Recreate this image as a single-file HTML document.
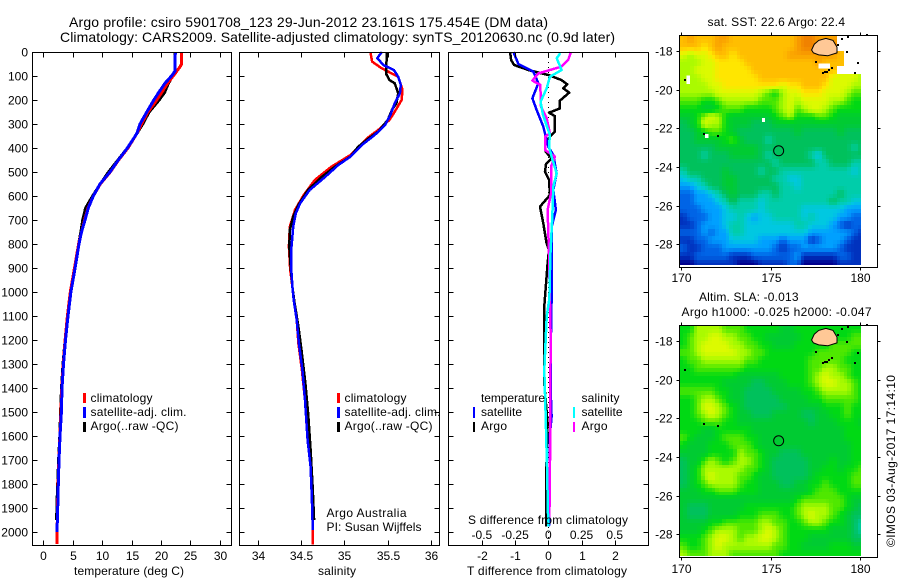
<!DOCTYPE html>
<html lang="en">
<head>
<meta charset="utf-8">
<title>Argo profile 5901708_123</title>
<style>
html,body{margin:0;padding:0;background:#fff;}
svg{display:block;}
text{font-family:"Liberation Sans",Arial,sans-serif;font-size:12px;fill:#000;}
.t14{font-size:14px;}
</style>
</head>
<body>
<svg id="fig" xmlns="http://www.w3.org/2000/svg" width="900" height="580" viewBox="0 0 900 580">
<defs>
<clipPath id="clipMapA"><rect x="680" y="36" width="181" height="229"/></clipPath>
<clipPath id="clipMapB"><rect x="680" y="326" width="181" height="230"/></clipPath>
</defs>
<rect x="0" y="0" width="900" height="580" fill="#fff"/>

<text class="t14" x="69" y="27" textLength="479">Argo profile: csiro 5901708_123 29-Jun-2012 23.161S 175.454E (DM data)</text>
<text class="t14" x="60" y="42" textLength="555">Climatology: CARS2009. Satellite-adjusted climatology: synTS_20120630.nc (0.9d later)</text>

<g id="panelTemp"></g>
<g id="panelSal"></g>
<g id="panelDiff"></g>
<g id="mapA"></g>
<g id="mapB"></g>

<text x="74" y="575" textLength="110">temperature (deg C)</text>
<text x="318" y="575" textLength="38">salinity</text>
<text x="467" y="575" textLength="160">T difference from climatology</text>
<text x="468" y="524" textLength="160">S difference from climatology</text>

<g>
<rect x="83" y="393" width="3" height="10" fill="#f00"/>
<rect x="83" y="407" width="3" height="11" fill="#00f"/>
<rect x="83" y="422" width="3" height="10" fill="#000"/>
<text x="90.5" y="402" textLength="62">climatology</text>
<text x="90.5" y="416" textLength="96">satellite-adj. clim.</text>
<text x="90.5" y="430" textLength="88">Argo(..raw -QC)</text>
</g>
<g>
<rect x="337" y="393" width="3" height="10" fill="#f00"/>
<rect x="337" y="407" width="3" height="11" fill="#00f"/>
<rect x="337" y="422" width="3" height="10" fill="#000"/>
<text x="344.5" y="402" textLength="62">climatology</text>
<text x="344.5" y="416" textLength="96">satellite-adj. clim.</text>
<text x="344.5" y="430" textLength="88">Argo(..raw -QC)</text>
</g>
<text x="326.5" y="517" textLength="80">Argo Australia</text>
<text x="326.5" y="531" textLength="95">PI: Susan Wijffels</text>

<g>
<text x="481" y="402" textLength="64">temperature</text>
<text x="481" y="416" textLength="41">satellite</text>
<text x="481" y="430" textLength="26">Argo</text>
<rect x="473" y="407" width="2" height="11" fill="#00f"/>
<rect x="473" y="422" width="2" height="10" fill="#000"/>
<text x="581.5" y="402" textLength="38">salinity</text>
<text x="581.5" y="416" textLength="41">satellite</text>
<text x="581.5" y="430" textLength="26">Argo</text>
<rect x="573" y="407" width="2" height="11" fill="#0ff"/>
<rect x="573" y="422" width="2" height="10" fill="#f0f"/>
</g>

<text x="707.5" y="26" textLength="137.5">sat. SST: 22.6 Argo: 22.4</text>
<text x="699" y="301" textLength="99.5">Altim. SLA: -0.013</text>
<text x="681.5" y="316" textLength="190">Argo h1000: -0.025 h2000: -0.047</text>
<text transform="translate(895,547) rotate(-90)" x="0" y="0" textLength="172">©IMOS 03-Aug-2017 17:14:10</text>
</svg>

<script>
// ---- profile data ----
const depthTicks = [0,100,200,300,400,500,600,700,800,900,1000,1100,1200,1300,1400,1500,1600,1700,1800,1900,2000];
const tempTicks = [0,5,10,15,20,25,30];
const salTicks = [34,34.5,35,35.5,36];
const diffTTicks = [-2,-1,0,1,2];
const diffSTicks = [-0.5,-0.25,0,0.25,0.5];
const diffSLabels = ["-0.5","-0.25","0","0.25","0.5"];

const tempArgoDepth = [0,80,100,130,170,200,250,300,340,400,450,500,550,600,650,700,750,800,900,1000,1100,1200,1300,1400,1500,1600,1700,1800,1900,1950];
const tempArgo = [22.4,22.4,22.0,21.3,20.6,19.7,18.0,16.9,15.9,14.3,12.7,11.1,9.7,8.4,7.2,6.7,6.4,6.0,5.3,4.7,4.15,3.7,3.35,3.1,2.95,2.8,2.6,2.45,2.3,2.28];
const tempClimDepth = [0,50,60,80,100,130,170,200,250,300,340,400,450,500,550,600,650,700,800,900,1000,1100,1200,1300,1400,1500,1600,1700,1800,1900,2000,2050];
const tempClim = [23.5,23.5,23.3,22.7,22.1,21.15,20.1,19.3,17.8,16.7,15.9,14.4,12.8,11.4,9.7,8.5,7.6,7.0,6.0,5.3,4.6,4.1,3.7,3.4,3.15,3.0,2.82,2.65,2.52,2.42,2.35,2.3];
const tempSatDepth = [0,80,100,130,170,200,250,300,340,400,450,500,550,600,650,700,750,800,900,1000,1100,1200,1300,1400,1500,1600,1700,1800,1900,2000];
const tempSat = [22.45,22.4,21.8,20.7,19.6,18.8,17.6,16.45,15.9,14.3,12.75,11.35,9.65,8.5,7.65,7.1,6.5,6.07,5.4,4.7,4.2,3.78,3.43,3.18,3.07,2.84,2.67,2.55,2.45,2.33];

const salArgoDepth = [0,90,117,130,172,214,240,283,332,360,394,436,478,520,575,637,686,742,811,894,978,1033,1144,1242,1380,1519,1658,1825,1950];
const salArgo = [35.49,35.48,35.52,35.58,35.62,35.6,35.55,35.5,35.39,35.28,35.16,35.07,34.89,34.74,34.58,34.47,34.41,34.37,34.365,34.38,34.4,34.42,34.47,34.505,34.55,34.585,34.61,34.635,34.65];
const salClimDepth = [0,40,68,103,158,200,249,283,325,360,429,478,533,596,658,728,811,908,978,1033,1116,1214,1325,1450,1617,1728,1866,1991,2053];
const salClim = [35.3,35.32,35.43,35.62,35.67,35.66,35.58,35.52,35.39,35.26,35.07,34.85,34.66,34.53,34.43,34.37,34.36,34.375,34.4,34.415,34.45,34.47,34.51,34.545,34.575,34.61,34.625,34.635,34.635];
const salSatDepth = [0,26,54,75,103,137,172,214,262,304,346,388,436,471,520,575,630,672,728,811,894,978,1033,1116,1214,1325,1450,1617,1728,1866,1991];
const salSat = [35.43,35.38,35.45,35.57,35.62,35.65,35.64,35.58,35.53,35.47,35.35,35.2,35.07,34.93,34.78,34.6,34.49,34.44,34.41,34.39,34.385,34.4,34.415,34.45,34.475,34.515,34.545,34.575,34.61,34.625,34.635];

const diffTArgoDepth = [0,33,54,75,96,117,135,151,169,203,235,253,267,332,353,381,415,443,467,499,533,596,644,714,797,825,880,1075,1367,1547,1783,1978];
const diffTArgo = [-1.15,-1.12,-1.03,-0.6,0,0.4,0.57,0.45,0.63,0.35,0.35,0.02,0.2,0.2,0.05,-0.1,-0.08,0.1,-0.07,-0.1,0.02,0.05,-0.25,-0.15,-0.05,0.02,-0.02,-0.13,-0.13,-0.02,-0.07,-0.07];
const diffTSatDepth = [0,50,82,130,193,242,311,394,429,506,575,658,728,880,1026,1172,1450,1519,1589,1978];
const diffTSat = [-1.05,-0.9,-0.45,-0.3,-0.48,-0.35,-0.15,0,0.15,0.25,0.15,0.23,0.1,0.1,0.1,0.08,0.08,0.1,0.05,0.02];
const diffSArgoDepth = [0,33,61,89,119,137,228,276,339,353,408,436,478,589,658,839,1172,1589,1939];
const diffSArgo = [0.17,0.15,0.1,-0.075,-0.12,-0.06,-0.055,-0.012,0.012,-0.025,-0.025,0.05,0.02,0.02,-0.005,0.005,0.017,0.015,0.008];
const diffSSatDepth = [5,26,75,103,151,207,262,346,394,436,506,561,686,853,1026,1103,1325,1506,1728,1978];
const diffSSat = [0.09,0.063,0.1,0.012,-0.012,-0.058,-0.04,0.012,0.005,0.025,0.063,0.038,0.03,0.015,0.008,-0.012,-0.03,-0.02,-0.01,0];

// ---- map data: colour-ramp levels on a 0.4 degree grid, north to south; null = no data ----
const mapLonTicks = [170,175,180];
const mapLatTicks = [-18,-20,-22,-24,-26,-28];
const sstLevels = [
[13,14,13,13,13,14,14,13,13,13,13,13,13,13,13,13,14,15,15,14,14,14,null,null,null,null],
[13,13,13,12,13,14,13,13,13,13,13,13,13,13,13,13,14,15,15,15,15,15,null,null,null,null],
[11,10,11,11,12,13,13,12,13,13,13,13,13,13,13,14,14,14,14,14,14,14,13,null,null,null],
[10,10,10,11,11,12,12,12,12,13,13,13,13,13,13,13,13,13,13,14,13,13,13,null,null,null],
[10,10,11,11,11,12,12,12,12,12,13,13,13,13,13,13,13,13,13,13,13,13,null,null,null,null],
[10,10,10,11,11,12,12,12,12,12,12,13,13,13,13,13,13,13,13,13,13,11,11,11,11,10],
[10,10,10,10,11,11,12,12,12,12,12,12,12,12,11,12,12,13,13,13,12,11,11,11,10,10],
[10,10,10,10,10,11,11,11,11,11,11,10,9,8,10,11,11,12,12,12,11,11,11,10,9,9],
[9,9,9,8,8,9,10,10,10,10,10,9,9,9,10,11,10,11,11,11,11,10,10,9,8,8],
[8,8,8,7,7,8,9,9,9,8,8,8,8,9,10,11,9,10,11,11,10,9,8,8,8,8],
[7,7,8,10,11,10,8,7,7,7,7,7,7,8,9,10,8,8,8,9,9,8,7,7,7,7],
[6,7,8,11,10,10,8,7,7,7,6,6,6,7,7,7,7,7,7,7,7,7,7,7,7,7],
[6,6,7,8,9,9,8,7,6,6,6,6,6,6,6,6,7,6,6,6,6,6,7,6,6,6],
[6,6,7,7,7,7,8,9,7,6,6,6,5,6,6,6,6,6,6,6,6,6,6,6,6,6],
[6,6,6,6,6,7,7,7,7,7,7,6,6,6,6,6,6,6,6,6,6,6,6,6,5,6],
[6,6,6,5,6,6,6,7,7,7,7,6,5,6,6,6,6,6,5,4,6,6,6,6,6,6],
[6,6,6,6,6,6,6,6,6,6,6,6,6,5,6,6,6,6,6,5,5,6,6,6,5,5],
[5,6,6,6,6,6,7,6,6,6,6,5,6,6,5,5,5,5,5,5,5,5,5,5,4,5],
[4,5,5,6,6,6,7,7,6,6,6,6,6,5,5,4,4,5,5,5,5,5,5,5,5,5],
[3,3,4,5,6,6,7,7,6,6,6,6,6,6,5,5,4,5,5,5,5,5,5,5,5,5],
[2,2,3,3,4,5,6,7,6,6,6,5,5,6,5,5,5,5,5,5,5,5,6,5,5,5],
[2,2,3,3,3,4,5,6,5,5,5,4,5,5,5,5,5,5,5,5,5,6,5,5,4,4],
[2,2,2,3,3,3,4,5,5,5,5,4,5,5,5,5,5,4,4,4,4,4,4,3,3,3],
[1,2,2,2,3,3,4,4,5,4,3,4,4,5,5,5,5,4,5,4,4,4,3,3,2,2],
[1,1,2,3,3,3,4,5,5,4,4,4,4,4,4,4,5,5,4,4,4,3,2,1,2,2],
[2,2,2,3,2,3,3,5,5,4,4,4,4,4,4,4,4,4,3,3,3,3,3,3,2,1],
[1,1,2,2,3,3,3,4,4,4,4,3,3,3,2,3,3,3,1,2,3,3,3,2,1,1],
[2,1,1,2,2,2,3,3,3,3,3,3,3,2,1,2,2,3,3,3,3,3,2,1,1,1],
[1,1,2,2,2,2,2,1,1,1,2,2,2,2,2,2,3,1,1,1,1,1,2,2,1,1],
[0,0,1,1,1,1,1,1,0,0,0,1,1,1,1,2,2,0,0,0,0,0,1,1,1,1]
];
const slaLevels = [
[8,8,10,10,10,10,9,9,9,8,8,8,8,8,7,7,8,8,8,8,8,8,8,8,8,8],
[8,9,10,10,11,11,10,10,9,9,8,8,7,7,7,7,7,8,8,8,8,8,8,8,9,9],
[8,9,10,11,11,11,11,10,10,9,9,8,8,7,7,7,8,8,8,8,8,9,9,9,9,9],
[9,9,10,11,11,11,11,11,10,10,9,9,8,8,8,8,8,8,8,9,9,9,9,9,8,8],
[8,9,9,10,10,10,10,10,10,9,9,8,8,8,8,8,8,8,9,9,9,9,9,8,8,8],
[8,8,9,9,9,9,9,9,9,8,8,8,8,8,8,8,8,8,9,9,10,10,9,9,8,8],
[8,8,8,8,8,8,8,8,7,7,7,7,7,7,8,8,8,8,9,10,11,10,10,9,8,8],
[8,8,8,8,8,8,7,7,7,7,6,6,7,7,7,8,8,8,9,10,11,11,10,10,9,8],
[9,9,9,9,9,8,8,7,7,6,6,6,6,7,7,7,7,8,8,9,10,10,10,10,9,8],
[8,8,9,10,10,9,8,7,7,6,6,6,6,6,7,7,7,7,8,8,9,9,9,9,9,8],
[8,8,9,11,11,10,9,8,7,6,6,6,6,6,6,7,7,7,7,7,8,8,8,9,8,8],
[8,8,9,10,11,10,9,8,7,7,6,6,6,7,7,7,7,6,6,7,7,8,8,9,8,8],
[8,8,8,9,9,9,8,8,7,7,7,7,7,7,7,7,7,7,6,7,7,7,8,8,8,7],
[8,8,8,7,7,8,8,8,8,8,7,7,7,7,7,7,7,7,7,7,7,7,7,8,8,8],
[9,8,7,7,7,8,9,9,9,8,8,7,7,7,7,7,7,7,7,7,7,7,7,8,8,8],
[8,7,7,7,8,8,8,9,9,9,8,7,7,7,7,7,7,7,7,7,7,7,7,7,8,8],
[7,7,7,7,8,8,8,8,10,9,9,8,7,7,6,6,6,7,7,7,7,7,7,7,8,8],
[6,7,7,9,10,9,8,9,10,10,9,8,7,6,6,6,6,6,7,7,7,8,7,7,8,8],
[6,7,8,10,10,10,10,10,10,9,9,8,7,6,6,6,6,6,7,7,8,8,7,8,8,9],
[6,7,8,10,11,10,10,10,9,9,8,7,7,6,6,6,6,6,7,8,8,8,8,8,9,9],
[6,7,8,9,10,10,10,10,9,8,8,7,7,7,6,6,7,7,8,8,9,8,8,8,9,9],
[7,7,7,8,8,9,9,9,8,8,8,7,7,7,7,7,7,7,8,9,9,9,8,8,8,8],
[7,7,7,7,7,7,7,7,7,7,7,7,7,7,7,7,8,9,9,9,9,9,9,8,7,7],
[7,6,6,6,7,7,7,7,7,8,8,8,8,8,8,8,9,10,10,10,10,9,9,8,7,6],
[7,6,6,6,7,7,7,7,8,8,8,9,9,9,8,8,9,10,11,10,10,9,8,7,6,6],
[7,7,7,7,8,8,9,9,9,9,9,10,10,9,9,8,8,9,10,10,9,8,8,7,6,5],
[7,7,7,8,9,10,10,10,9,9,9,10,11,10,9,8,8,8,8,8,8,7,7,7,6,5],
[8,8,8,9,10,11,11,10,9,10,10,11,11,10,9,8,8,8,7,7,7,7,7,7,6,6],
[9,8,8,9,10,11,10,10,10,10,10,10,10,9,9,8,8,7,7,7,7,8,8,8,7,7],
[10,9,9,9,10,10,10,9,9,9,9,9,9,9,8,8,8,8,8,8,8,8,8,8,8,8]
];
const levelReds = [0,0,0,0,0,0,0,0,0,79,170,220,255,255,250,240];
const levelGreens = [0,50,100,160,200,205,193,203,217,232,250,250,230,190,160,130];
const levelBlues = [140,190,230,255,225,170,92,50,20,0,0,0,0,0,0,0];
const sstGaps = [[170.3,-19.28,170.5,-19.7],[171.33,-22.29,171.51,-22.5],[174.52,-21.47,174.69,-21.67],[177.68,-18.64,178.33,-18.9]];
const islandLon = [177.3,177.45,177.7,178.1,178.5,178.72,178.72,178.2,177.7,177.4];
const islandLat = [-17.95,-17.65,-17.45,-17.35,-17.45,-17.8,-18.1,-18.25,-18.2,-18.1];
const coastLon = [177.55,177.96,178.15,178.43,178.99,178.8,179.27,179.36,179.92,180.39,170.21,171.29,172.07,179.73,178.3,178.05];
const coastLat = [-18.55,-19.12,-19.07,-18.9,-17.39,-17.69,-18.04,-17.26,-18.64,-17.17,-19.5,-22.31,-22.4,-19.15,-19.0,-19.1];
const argoLon = [175.454];
const argoLat = [-23.161];

// ---- helpers ----
const NS = 'http://www.w3.org/2000/svg';
function mk(tag, parent, attrs){
  const el = document.createElementNS(NS, tag);
  for (const k in attrs) el.setAttribute(k, attrs[k]);
  parent.appendChild(el);
  return el;
}
const depthY = d => 52 + d * 0.24;
const tempX = v => 43.3 + v * 5.88;
const salX = v => 257.7 + (v - 34) * 86.7;
const diffTX = v => 548.3 + v * 33.2;
const diffSX = v => 548.3 + v * 132.8;
const mapX = lon => 681.3 + (lon - 170) * 17.85;
const mapYA = lat => 51 + (-18 - lat) * 19.33;
const mapYB = lat => 341 + (-18 - lat) * 19.33;

function levelColor(v){
  const top = levelReds.length - 1;
  const t = Math.max(0, Math.min(top, v));
  const i = Math.min(top - 1, Math.floor(t)), f = t - i;
  const mix = arr => Math.round(arr[i] + (arr[i + 1] - arr[i]) * f);
  return 'rgb(' + mix(levelReds) + ',' + mix(levelGreens) + ',' + mix(levelBlues) + ')';
}
function drawLine(parent, xFn, xs, ds, color, width, name){
  const pts = xs.map((v, i) => xFn(v).toFixed(1) + ',' + depthY(ds[i]).toFixed(1)).join(' ');
  const el = mk('polyline', parent, {points: pts, fill: 'none', stroke: color, 'stroke-width': width, 'stroke-linejoin': 'round', 'shape-rendering': 'crispEdges'});
  
  
}
function drawFrame(parent, l, r, t, b){
  const f = mk('rect', parent, {x: l, y: t, width: r - l, height: b - t, fill: 'none', stroke: '#000', 'stroke-width': 1, 'shape-rendering': 'crispEdges'});
  
  
}
function tick(parent, x1, y1, x2, y2){
  const el = mk('line', parent, {x1: x1, y1: y1, x2: x2, y2: y2, stroke: '#000', 'stroke-width': 1, 'shape-rendering': 'crispEdges'});
  
  
}
function label(parent, x, y, str, anchor){
  const el = mk('text', parent, {x: x, y: y, 'text-anchor': anchor});
  el.textContent = str;
  
  
}
function profileAxes(parent, l, r, xFn, xt, xl, showDepth){
  const L = l + 0.5, R = r + 0.5, T = 52.5, B = 545.5;
  depthTicks.forEach(d => {
    const y = Math.round(depthY(d)) + 0.5;
    tick(parent, L, y, L + 5, y);
    tick(parent, R - 5, y, R, y);
    if (showDepth) label(parent, 28, Math.round(depthY(d)) + 4.5, String(d), 'end');
  });
  xt.forEach((v, i) => {
    const x = Math.round(xFn(v)) + 0.5;
    tick(parent, x, T, x, T + 5);
    tick(parent, x, B - 5, x, B);
    label(parent, x, 560, xl[i], 'middle');
  });
  drawFrame(parent, L, R, T, B);
}

// ---- temperature panel ----
const pT = document.getElementById('panelTemp');
drawLine(pT, tempX, tempArgo, tempArgoDepth, '#000', 3, 'series-temperature-argo');
drawLine(pT, tempX, tempClim, tempClimDepth, '#f00', 3, 'series-temperature-climatology');
drawLine(pT, tempX, tempSat, tempSatDepth, '#00f', 3, 'series-temperature-satellite');
profileAxes(pT, 32, 231, tempX, tempTicks, tempTicks.map(String), true);

// ---- salinity panel ----
const pS = document.getElementById('panelSal');
drawLine(pS, salX, salClim, salClimDepth, '#f00', 2.5, 'series-salinity-climatology');
drawLine(pS, salX, salArgo, salArgoDepth, '#000', 2.5, 'series-salinity-argo');
drawLine(pS, salX, salSat, salSatDepth, '#00f', 2.5, 'series-salinity-satellite');
profileAxes(pS, 239, 439, salX, salTicks, salTicks.map(String), false);

// ---- difference panel ----
const pD = document.getElementById('panelDiff');
const zeroLine = mk('line', pD, {x1: 548.5, y1: 52, x2: 548.5, y2: 545, stroke: '#000', 'stroke-width': 1, 'stroke-dasharray': '1 4', 'shape-rendering': 'crispEdges'});


drawLine(pD, diffTX, diffTArgo, diffTArgoDepth, '#000', 2.5, 'series-t-difference-argo');
drawLine(pD, diffTX, diffTSat, diffTSatDepth, '#00f', 2.5, 'series-t-difference-satellite');
drawLine(pD, diffSX, diffSArgo, diffSArgoDepth, '#f0f', 2.5, 'series-s-difference-argo');
drawLine(pD, diffSX, diffSSat, diffSSatDepth, '#0ff', 2.5, 'series-s-difference-satellite');
profileAxes(pD, 448, 648, diffTX, diffTTicks, diffTTicks.map(String), false);
diffSTicks.forEach((v, i) => label(pD, diffSX(v), 539, diffSLabels[i], 'middle'));

// ---- maps ----
// Each grid cell is painted as four 0.2 degree pixels, blended with its neighbours,
// which matches the finer pixel texture of the reference.
function blended(levels, u, v){
  const r0 = Math.floor(v), c0 = Math.floor(u), fr = v - r0, fc = u - c0;
  let sum = 0, weight = 0;
  [[r0, c0, (1 - fr) * (1 - fc)], [r0, c0 + 1, (1 - fr) * fc], [r0 + 1, c0, fr * (1 - fc)], [r0 + 1, c0 + 1, fr * fc]].forEach(p => {
    const row = levels[Math.max(0, Math.min(levels.length - 1, p[0]))];
    const val = row[Math.max(0, Math.min(row.length - 1, p[1]))];
    if (val === null) return;
    sum += val * p[2];
    weight += p[2];
  });
  return sum / weight;
}
function drawMap(parent, levels, yFn, clipId, top, bottom, labelY, gaps, groupName){
  const cells = mk('g', parent, {'clip-path': 'url(#' + clipId + ')'});
  
  
  const lon0 = 169.9, lat0 = -17.19, step = 0.2;
  for (let rs = 0; rs < levels.length * 2; rs++) {
    for (let cs = 0; cs < levels[0].length * 2; cs++) {
      if (levels[Math.floor(rs / 2)][Math.floor(cs / 2)] === null) continue;
      const v = blended(levels, (cs + 0.5) / 2 - 0.5, (rs + 0.5) / 2 - 0.5);
      const x0 = Math.round(mapX(lon0 + cs * step)), x1 = Math.round(mapX(lon0 + (cs + 1) * step));
      const y0 = Math.round(yFn(lat0 - rs * step)), y1 = Math.round(yFn(lat0 - (rs + 1) * step));
      const cell = mk('rect', cells, {x: x0, y: y0, width: x1 - x0, height: y1 - y0, fill: levelColor(v), 'shape-rendering': 'crispEdges'});
      
      
    }
  }
  gaps.forEach(g => {
    const gap = mk('rect', cells, {x: mapX(g[0]), y: yFn(g[1]), width: mapX(g[2]) - mapX(g[0]), height: yFn(g[3]) - yFn(g[1]), fill: '#fff', 'shape-rendering': 'crispEdges'});
    
    
  });
  const island = mk('polygon', parent, {points: islandLon.map((lon, i) => mapX(lon).toFixed(1) + ',' + yFn(islandLat[i]).toFixed(1)).join(' '), fill: '#ffc896', stroke: '#000', 'stroke-width': 1});
  
  
  coastLon.forEach((lon, i) => {
    const dot = mk('rect', parent, {x: Math.round(mapX(lon)) - 1, y: Math.round(yFn(coastLat[i])) - 1, width: 2, height: 2, fill: '#000', 'shape-rendering': 'crispEdges'});
    
    
  });
  const marker = mk('circle', parent, {cx: mapX(argoLon[0]), cy: yFn(argoLat[0]), r: 5, fill: 'none', stroke: '#000', 'stroke-width': 1});
  
  
  const L = 679.5, R = 877.5;
  drawFrame(parent, L, R, top, bottom);
  mapLatTicks.forEach(lat => {
    const y = Math.round(yFn(lat)) + 0.5;
    tick(parent, L - 3, y, L, y);
    tick(parent, R, y, R + 3, y);
    label(parent, 672.5, y + 4, String(lat), 'end');
  });
  mapLonTicks.forEach(lon => {
    const x = Math.round(mapX(lon)) + 0.5;
    tick(parent, x, top - 3, x, top);
    tick(parent, x, bottom, x, bottom + 3);
    label(parent, x, labelY, String(lon), 'middle');
  });
}
drawMap(document.getElementById('mapA'), sstLevels, mapYA, 'clipMapA', 35.5, 267.5, 282, sstGaps, 'sst-heatmap');
drawMap(document.getElementById('mapB'), slaLevels, mapYB, 'clipMapB', 325.5, 557.5, 573, [], 'sla-heatmap');
</script>
</body>
</html>
